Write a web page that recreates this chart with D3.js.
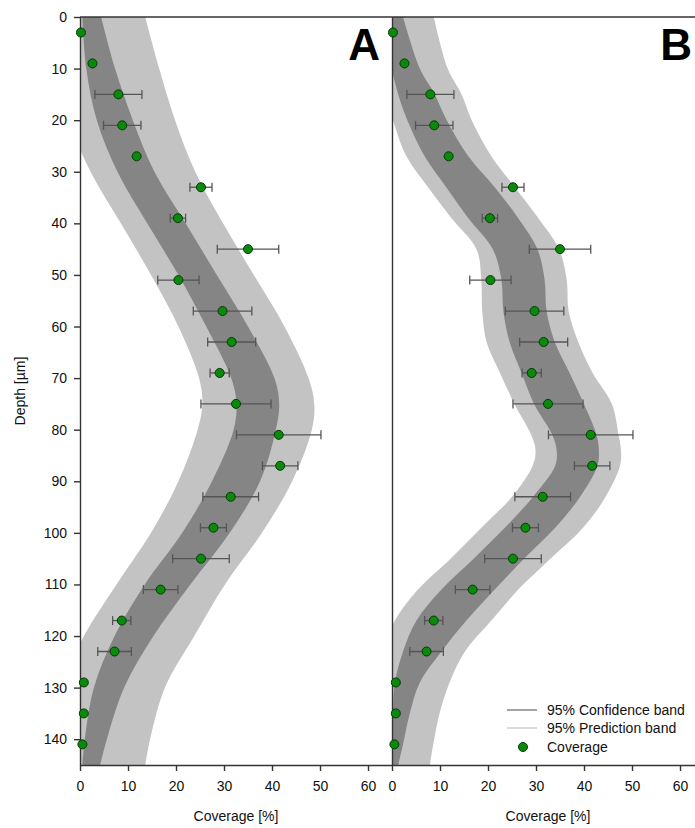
<!DOCTYPE html>
<html>
<head>
<meta charset="utf-8">
<script src="https://cdn.jsdelivr.net/npm/d3@7"></script>
<style>
	body { margin: 0; background: #fff; }
	svg text { font-family: "Liberation Sans", Arial, sans-serif; fill: #111; }
</style>
</head>
<body>
<div id="chart"></div>
<script>
// measured points (same data in both panels)
const depth = [3, 9, 15, 21, 27, 33, 39, 45, 51, 57, 63, 69, 75, 81, 87, 93, 99, 105, 111, 117, 123, 129, 135, 141];
const coverage = [0.2, 2.6, 8.0, 8.8, 11.8, 25.2, 20.4, 35.0, 20.5, 29.7, 31.6, 29.1, 32.5, 41.4, 41.7, 31.4, 27.8, 25.2, 16.8, 8.7, 7.2, 0.8, 0.8, 0.5];
const errorSD = [0, 0, 4.9, 3.9, 0, 2.3, 1.6, 6.4, 4.3, 6.1, 5.0, 2.0, 7.3, 8.8, 3.7, 5.8, 2.7, 5.9, 3.6, 1.9, 3.5, 0, 0, 0];

// band edges
const bandDepthA = [0, 10, 20, 30, 40, 50, 60, 70, 75, 80, 90, 100, 110, 120, 130, 140, 145];
const predLoA = [-8.5, -6, -2.5, 2.2, 8.5, 14.8, 20.5, 24.8, 25.5, 24.5, 20.5, 14.8, 7.6, 0.8, -4, -7, -8];
const confLoA = [0.5, 1.3, 3.5, 7.8, 14.0, 20.5, 26.3, 31.5, 32.6, 32.0, 27.5, 21.3, 13.5, 7.2, 2.9, 1.0, 0.5];
const confHiA = [4.4, 7.3, 11.0, 15.5, 22.0, 28.5, 35.0, 40.5, 41.5, 40.8, 37.5, 31.2, 23.0, 15.3, 9.2, 5.6, 4.2];
const predHiA = [13.6, 16.5, 19.8, 24.0, 29.8, 36.2, 42.6, 47.6, 48.8, 48.3, 44.2, 37.9, 30.2, 23.8, 17.7, 14.6, 13.6];

// band edges
const bandDepthB = [0, 10, 15, 20, 27, 33, 39, 45, 51, 57, 63, 69, 75, 81, 84, 87, 93, 99, 105, 111, 117, 123, 129, 135, 141, 145];
const predLoB = [-5, -3.5, -1.5, 0.2, 3.0, 7.5, 12.4, 17.6, 18.6, 18.8, 19.7, 22.5, 25.5, 29.0, 29.9, 29.3, 25.0, 18.6, 12.2, 5.4, 0.6, -2, -4, -5, -6, -6];
const confLoB = [-1, 0, 1.3, 3.2, 6.8, 11.3, 15.9, 21.0, 22.8, 23.2, 24.5, 27.0, 29.6, 33.4, 34.3, 34.0, 29.4, 23.5, 17.0, 10.3, 5.1, 2.3, 0.6, 0.2, 0, -0.5];
const confHiB = [2.3, 5.8, 8.9, 11.4, 15.9, 21.4, 26.3, 30.3, 31.8, 32.2, 33.9, 37.0, 40.0, 42.6, 43.1, 42.8, 39.2, 34.0, 27.5, 21.4, 15.5, 10.3, 5.8, 3.7, 2.3, 1.3];
const predHiB = [8.7, 11.6, 14.5, 16.6, 20.7, 25.6, 30.5, 34.8, 36.4, 36.8, 38.8, 41.8, 45.8, 47.2, 47.7, 47.5, 44.5, 39.8, 33.0, 26.3, 20.7, 15.2, 12.0, 9.9, 8.6, 7.9];

const xTicks = [0, 10, 20, 30, 40, 50, 60];
const yTicks = [0, 10, 20, 30, 40, 50, 60, 70, 80, 90, 100, 110, 120, 130, 140];

const width = 695, height = 828;
const plotTop = 17, plotBottom = 765;
const panelA = { left: 80, right: 392 };
const panelB = { left: 392, right: 704 };

const lightGrey = '#c3c3c3';
const darkGrey = '#858585';
const dotColor = '#0a8a0a';

const svg = d3.select('#chart').append('svg')
	.attr('width', width)
	.attr('height', height);

const y = d3.scaleLinear().domain([0, 145]).range([plotTop, plotBottom]);
const xA = d3.scaleLinear().domain([0, 65]).range([panelA.left, panelA.right]);
const xB = d3.scaleLinear().domain([0, 65]).range([panelB.left, panelB.right]);

drawPanel('A', xA, panelA, bandDepthA, predLoA, confLoA, confHiA, predHiA);
drawPanel('B', xB, panelB, bandDepthB, predLoB, confLoB, confHiB, predHiB);
drawAxes();
drawPoints(xA);
drawPoints(xB);
drawLegend();

function drawPanel(name, x, panel, bandDepth, predLo, confLo, confHi, predHi) {
	svg.append('clipPath').attr('id', 'clip' + name)
		.append('rect')
		.attr('x', panel.left)
		.attr('y', plotTop)
		.attr('width', panel.right - panel.left)
		.attr('height', plotBottom - plotTop);

	const rows = bandDepth.map((d, i) => ({ depth: d, pLo: predLo[i], cLo: confLo[i], cHi: confHi[i], pHi: predHi[i] }));
	const g = svg.append('g').attr('clip-path', `url(#clip${name})`);

	const band = (lo, hi) => d3.area()
		.curve(d3.curveCatmullRom.alpha(0.5))
		.y(d => y(d.depth))
		.x0(d => x(d[lo]))
		.x1(d => x(d[hi]));

	g.append('path').datum(rows)
		.attr('d', band('pLo', 'pHi'))
		.attr('fill', lightGrey);
	g.append('path').datum(rows)
		.attr('d', band('cLo', 'cHi'))
		.attr('fill', darkGrey);

	svg.append('text')
		.attr('x', name == 'A' ? 380 : 692)
		.attr('y', 60)
		.attr('text-anchor', 'end')
		.style('font-size', '44px')
		.style('font-weight', 'bold')
		.style('fill', '#000')
		.text(name);
}

function drawAxes() {
	const yAxis = d3.axisLeft(y)
		.tickValues(yTicks)
		.tickSize(6)
		.tickSizeOuter(0)
		.tickPadding(7);
	const gy = svg.append('g')
		.attr('transform', `translate(${panelA.left}, 0)`)
		.call(yAxis);

	const gyB = svg.append('g')
		.attr('transform', `translate(${panelB.left}, 0)`)
		.call(d3.axisLeft(y).tickValues([]).tickSizeOuter(0));

	// top border
	svg.append('line')
		.attr('x1', panelA.left).attr('x2', width)
		.attr('y1', plotTop).attr('y2', plotTop)
		.attr('stroke', '#333').attr('stroke-width', 1.4);

	const gxA = svg.append('g')
		.attr('transform', `translate(0, ${plotBottom})`)
		.call(d3.axisBottom(xA).tickValues(xTicks).tickSize(6).tickSizeOuter(0).tickPadding(10));
	const gxB = svg.append('g')
		.attr('transform', `translate(0, ${plotBottom})`)
		.call(d3.axisBottom(xB).tickValues(xTicks).tickSize(6).tickSizeOuter(0).tickPadding(10));

	[gy, gyB, gxA, gxB].forEach(g => {
		g.selectAll('path, line').attr('stroke', '#333').attr('stroke-width', 1.4);
		g.selectAll('text').style('font-size', '14px').style('fill', '#111');
	});

	svg.append('text')
		.attr('x', (panelA.left + panelA.right) / 2)
		.attr('y', 821)
		.attr('text-anchor', 'middle')
		.style('font-size', '14px')
		.text('Coverage [%]');
	svg.append('text')
		.attr('x', (panelB.left + panelB.right) / 2)
		.attr('y', 821)
		.attr('text-anchor', 'middle')
		.style('font-size', '14px')
		.text('Coverage [%]');

	svg.append('text')
		.attr('transform', `translate(25, ${(plotTop + plotBottom) / 2}) rotate(-90)`)
		.attr('text-anchor', 'middle')
		.style('font-size', '14px')
		.text('Depth [µm]');
}

function drawPoints(x) {
	const data = depth.map((d, i) => ({ depth: d, value: coverage[i], err: errorSD[i] }));
	const g = svg.append('g');

	const bars = g.selectAll('g.err')
		.data(data.filter(d => d.err > 0))
		.enter()
		.append('g')
		.attr('class', 'err')
		.attr('stroke', '#555')
		.attr('stroke-width', 1.3);
	bars.append('line')
		.attr('x1', d => x(d.value - d.err))
		.attr('x2', d => x(d.value + d.err))
		.attr('y1', d => y(d.depth))
		.attr('y2', d => y(d.depth));
	bars.append('line')
		.attr('x1', d => x(d.value - d.err))
		.attr('x2', d => x(d.value - d.err))
		.attr('y1', d => y(d.depth) - 4.5)
		.attr('y2', d => y(d.depth) + 4.5);
	bars.append('line')
		.attr('x1', d => x(d.value + d.err))
		.attr('x2', d => x(d.value + d.err))
		.attr('y1', d => y(d.depth) - 4.5)
		.attr('y2', d => y(d.depth) + 4.5);

	g.selectAll('circle')
		.data(data)
		.enter()
		.append('circle')
		.attr('cx', d => x(d.value))
		.attr('cy', d => y(d.depth))
		.attr('r', 4.5)
		.attr('fill', dotColor)
		.attr('stroke', '#063806')
		.attr('stroke-width', 1);
}

function drawLegend() {
	const legend = svg.append('g').attr('class', 'legend');
	const items = [
		{ label: '95% Confidence band', type: 'line', color: '#8c8c8c', y: 710 },
		{ label: '95% Prediction band', type: 'line', color: '#d2d2d2', y: 728 },
		{ label: 'Coverage', type: 'dot', color: dotColor, y: 747 }
	];
	items.forEach(item => {
		if (item.type == 'line') {
			legend.append('line')
				.attr('x1', 507).attr('x2', 537)
				.attr('y1', item.y).attr('y2', item.y)
				.attr('stroke', item.color)
				.attr('stroke-width', 1.6);
		} else {
			legend.append('circle')
				.attr('cx', 523).attr('cy', item.y)
				.attr('r', 4.5)
				.attr('fill', item.color)
				.attr('stroke', '#063806');
		}
		legend.append('text')
			.attr('x', 547)
			.attr('y', item.y + 5)
			.style('font-size', '14px')
			.text(item.label);
	});
}
</script>
</body>
</html>
